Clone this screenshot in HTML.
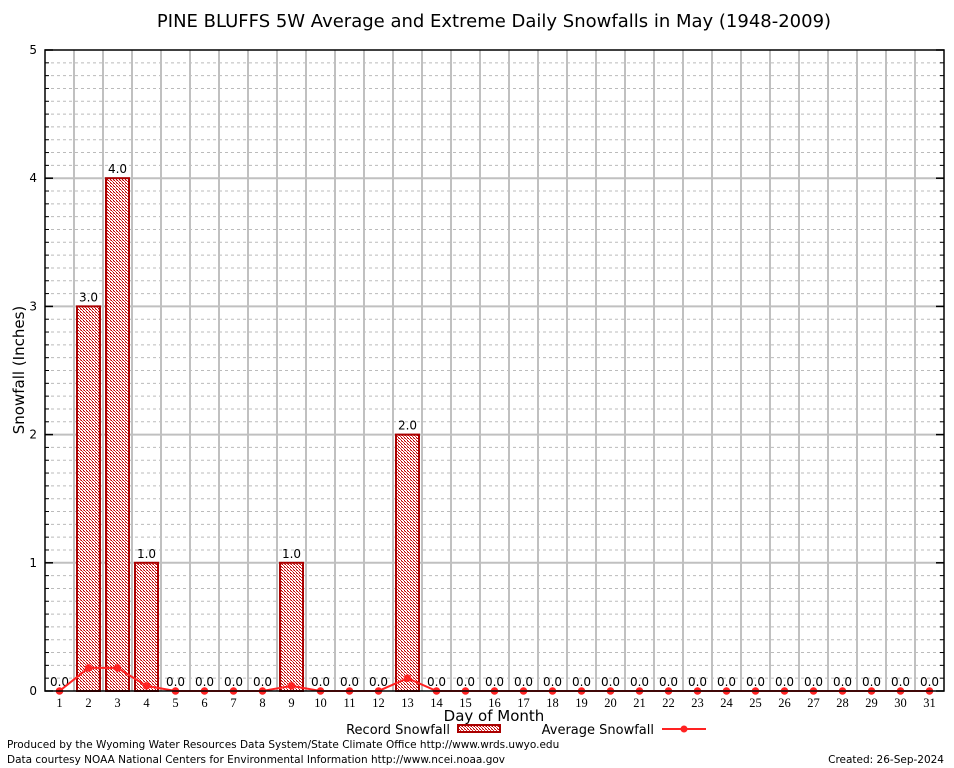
<!DOCTYPE html>
<html><head><meta charset="utf-8"><style>
body{margin:0;background:#fff;}
svg{display:block;font-family:"DejaVu Sans","Liberation Sans",sans-serif;}
</style></head><body>
<svg id="c" width="954" height="768">
<defs>
<pattern id="chk" width="3" height="3" patternUnits="userSpaceOnUse">
<rect width="3" height="3" fill="#fff"/><rect width="1" height="1" fill="#b00"/><rect x="1" y="1" width="1" height="1" fill="#d33"/><rect x="2" y="2" width="1" height="1" fill="#b00"/><rect x="2" y="0" width="1" height="1" fill="#e88"/>
</pattern>
</defs>
<text x="494" y="27" font-size="18" text-anchor="middle">PINE BLUFFS 5W Average and Extreme Daily Snowfalls in May (1948-2009)</text>
<g id="grid"></g>
<g id="bars"></g>
<g id="line"></g>
<g id="axes"></g>
<text transform="translate(24,370) rotate(-90)" font-size="15" text-anchor="middle">Snowfall (Inches)</text>
<text x="494" y="721" font-size="15" text-anchor="middle">Day of Month</text>
<g>
<text x="450" y="734" font-size="13" text-anchor="end">Record Snowfall</text>
<rect x="458" y="725" width="42" height="7" fill="url(#chk)" stroke="#a00" stroke-width="2"/>
<text x="654" y="734" font-size="13" text-anchor="end">Average Snowfall</text>
<line x1="662" y1="729" x2="706" y2="729" stroke="#f22" stroke-width="2"/>
<circle cx="684" cy="729" r="3.5" fill="#f22"/>
</g>
<text x="7" y="748" font-size="10.5">Produced by the Wyoming Water Resources Data System/State Climate Office http://www.wrds.uwyo.edu</text>
<text x="7" y="763" font-size="10.5">Data courtesy NOAA National Centers for Environmental Information http://www.ncei.noaa.gov</text>
<text x="944" y="763" font-size="10.5" text-anchor="end">Created:  26-Sep-2024</text>
</svg>
<script>
const days=[1,2,3,4,5,6,7,8,9,10,11,12,13,14,15,16,17,18,19,20,21,22,23,24,25,26,27,28,29,30,31];
const records=[0,3,4,1,0,0,0,0,1,0,0,0,2,0,0,0,0,0,0,0,0,0,0,0,0,0,0,0,0,0,0];
const averages=[0,0.18,0.18,0.04,0,0,0,0,0.04,0,0,0,0.1,0,0,0,0,0,0,0,0,0,0,0,0,0,0,0,0,0,0];
const yTicks=[0,1,2,3,4,5];
const NS='http://www.w3.org/2000/svg';
const L=45,R=944,T=50,B=691;
const x=d=>L+(d-0.5)*(R-L)/31;
const y=v=>B-v*(B-T)/5;
function mk(tag,attrs,parent,txt){const e=document.createElementNS(NS,tag);for(const k in attrs)e.setAttribute(k,attrs[k]);if(txt!==undefined)e.textContent=txt;parent.appendChild(e);return e;}
const grid=document.getElementById('grid'),bars=document.getElementById('bars'),line=document.getElementById('line'),axes=document.getElementById('axes');
for(let i=1;i<50;i++){if(i%10===0)continue;const g=mk('line',{x1:L,x2:R,y1:y(i/10),y2:y(i/10),stroke:'#bbb','stroke-dasharray':'3,3','stroke-width':1},grid);

}
for(let d=1;d<31;d++){const g=mk('line',{x1:x(d+0.5),x2:x(d+0.5),y1:T,y2:B,stroke:'#c0c0c0','stroke-width':2},grid);

}
yTicks.forEach(t=>{if(t>0&&t<5){const g=mk('line',{x1:L,x2:R,y1:y(t),y2:y(t),stroke:'#c0c0c0','stroke-width':2},grid);

}
const tl=mk('text',{x:L-8,y:y(t)+4,'font-size':12,'text-anchor':'end'},axes,String(t));


mk('line',{x1:L,x2:L+8,y1:y(t),y2:y(t),stroke:'#000','stroke-width':1.5},axes);
mk('line',{x1:R,x2:R-8,y1:y(t),y2:y(t),stroke:'#000','stroke-width':1.5},axes);});
for(let i=1;i<50;i++){if(i%10===0)continue;mk('line',{x1:L,x2:L+4,y1:y(i/10),y2:y(i/10),stroke:'#000'},axes);mk('line',{x1:R,x2:R-4,y1:y(i/10),y2:y(i/10),stroke:'#000'},axes);}
mk('rect',{x:L,y:T,width:R-L,height:B-T,fill:'none',stroke:'#000','stroke-width':1.5},axes);
days.forEach((d,i)=>{const v=records[i];
if(v>0){const b=mk('rect',{x:x(d)-11.5,y:y(v),width:23,height:y(0)-y(v),fill:'url(#chk)',stroke:'#a00','stroke-width':2},bars);

}
const lb=mk('text',{x:x(d),y:y(v)-5,'font-size':12,'text-anchor':'middle'},bars,v.toFixed(1));


const tk=mk('text',{x:x(d),y:B+16,'font-size':12.5,'text-anchor':'middle','font-family':'Liberation Serif, serif'},axes,String(d));

});
const pl=mk('polyline',{points:days.map((d,i)=>x(d)+','+y(averages[i])).join(' '),fill:'none',stroke:'#f22','stroke-width':2},line);


days.forEach((d,i)=>{const c=mk('circle',{cx:x(d),cy:y(averages[i]),r:3.8,fill:'#f22'},line);

});
</script>
</body></html>
